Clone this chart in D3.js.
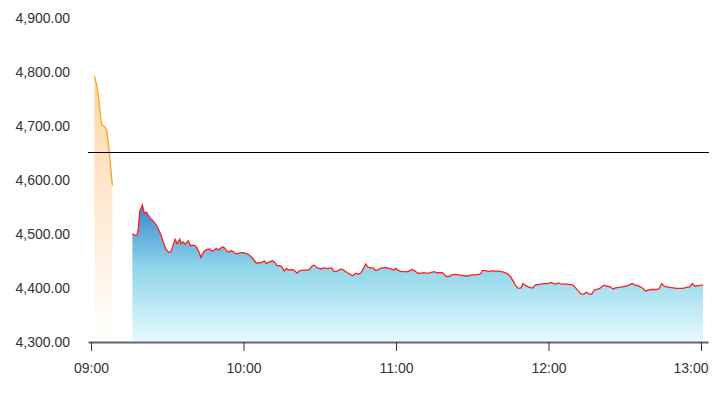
<!DOCTYPE html>
<html>
<head>
<meta charset="utf-8">
<script src="https://cdn.jsdelivr.net/npm/d3@7"></script>
<style>
    html, body { margin: 0; padding: 0; background: #fff; }
    svg { display: block; font-family: "Liberation Sans", Arial, sans-serif; }
    .tick text { fill: #333; font-size: 14px; }
</style>
</head>
<body>
<div id="chart"></div>
<script>
// opening auction (minutes after 09:00)
const preMinutes = [1.3, 2.4, 4.2, 5.2, 6.2, 7.3, 8.4];
const preValues = [4793, 4773, 4702, 4700, 4692, 4646, 4590];

// continuous session (minutes after 09:00)
const sessionMinutes = [
    16.25, 17.31, 18.10, 18.61, 19.16, 20.18, 20.97, 21.76, 22.31, 23.33,
    24.39, 25.45, 26.48, 27.54, 28.60, 29.63, 30.69, 31.48, 32.26, 33.05,
    33.84, 34.35, 34.90, 35.41, 36.20, 36.98, 37.77, 38.28, 39.07, 39.85,
    40.92, 41.70, 42.49, 43.28, 43.79, 44.57, 45.64, 46.70, 47.72, 48.51,
    49.29, 50.08, 50.87, 51.93, 52.72, 53.50, 54.29, 55.08, 55.86, 56.65,
    57.71, 58.74, 59.80, 60.86, 61.89, 62.95, 64.01, 65.03, 66.10, 67.16,
    68.18, 68.97, 69.75, 71.33, 72.39, 73.18, 74.24, 75.03, 76.05, 76.84,
    77.62, 78.69, 79.75, 80.53, 81.05, 81.84, 82.90, 84.19, 85.49, 86.28,
    87.06, 87.85, 88.64, 89.70, 90.49, 91.55, 92.57, 93.64, 94.70, 95.48,
    96.51, 97.57, 98.36, 99.42, 100.20, 101.23, 102.01, 102.80, 103.59, 104.38,
    105.16, 106.23, 107.29, 108.07, 108.86, 109.88, 110.95, 111.73, 112.79, 113.82,
    114.88, 115.94, 116.97, 118.03, 119.09, 119.88, 120.66, 121.45, 122.47, 123.54,
    124.60, 125.39, 126.41, 127.47, 128.54, 129.56, 130.89, 132.19, 133.49, 135.06,
    136.13, 137.19, 138.21, 139.00, 139.78, 140.85, 141.91, 143.21, 144.51, 145.84,
    147.15, 148.44, 149.78, 151.08, 152.65, 153.44, 153.95, 155.01, 156.07, 157.10,
    157.88, 158.95, 160.24, 161.58, 162.88, 163.94, 164.97, 166.03, 167.09, 168.11,
    169.18, 169.96, 171.02, 172.05, 173.11, 173.90, 174.68, 175.75, 177.05, 178.34,
    179.68, 180.98, 182.04, 182.83, 183.85, 184.92, 185.98, 187.27, 188.57, 189.63,
    190.69, 191.72, 192.78, 193.84, 194.86, 195.93, 196.99, 198.01, 199.08, 200.14,
    201.16, 201.95, 203.01, 204.31, 205.37, 206.43, 207.73, 209.03, 210.36, 211.67,
    212.96, 214.03, 215.09, 216.11, 217.18, 218.24, 219.26, 220.33, 221.39, 222.41,
    223.47, 224.53, 225.56, 226.62, 227.68, 228.98, 230.28, 231.61, 232.92, 234.21,
    235.55, 236.58, 237.64, 238.94, 240.28, 240.80
];
const sessionValues = [
    4501, 4498, 4499, 4511, 4542, 4554, 4539, 4541, 4537, 4530,
    4525, 4519, 4510, 4499, 4483, 4471, 4467, 4468, 4480, 4491,
    4483, 4486, 4491, 4483, 4486, 4482, 4486, 4488, 4479, 4480,
    4479, 4475, 4467, 4457, 4463, 4469, 4472, 4473, 4469, 4471,
    4474, 4471, 4474, 4477, 4474, 4469, 4467, 4470, 4468, 4465,
    4464, 4466, 4466, 4465, 4463, 4459, 4453, 4447, 4447, 4448,
    4451, 4446, 4448, 4451, 4448, 4442, 4442, 4440, 4432, 4437,
    4434, 4435, 4434, 4431, 4428, 4432, 4434, 4434, 4434, 4437,
    4442, 4443, 4439, 4437, 4436, 4438, 4437, 4437, 4438, 4432,
    4431, 4434, 4436, 4434, 4431, 4428, 4426, 4423, 4426, 4428,
    4426, 4429, 4438, 4445, 4440, 4438, 4438, 4434, 4434, 4437,
    4438, 4439, 4437, 4436, 4434, 4437, 4434, 4432, 4431, 4431,
    4431, 4433, 4435, 4432, 4428, 4428, 4429, 4428, 4429, 4431,
    4429, 4429, 4429, 4426, 4422, 4422, 4425, 4426, 4425, 4424,
    4423, 4423, 4425, 4425, 4426, 4428, 4433, 4433, 4432, 4431,
    4433, 4432, 4432, 4431, 4429, 4427, 4422, 4414, 4405, 4400,
    4401, 4409, 4405, 4403, 4401, 4401, 4406, 4407, 4408, 4409,
    4409, 4411, 4409, 4408, 4410, 4408, 4408, 4408, 4407, 4406,
    4401, 4395, 4390, 4389, 4393, 4390, 4389, 4397, 4398, 4400,
    4404, 4406, 4404, 4403, 4399, 4401, 4402, 4403, 4404, 4406,
    4409, 4406, 4405, 4403, 4400, 4395, 4397, 4398, 4398, 4398,
    4399, 4409, 4404, 4403, 4402, 4401, 4400, 4400, 4400, 4402,
    4403, 4409, 4404, 4405, 4406, 4407
];

const prevClose = 4652;
const yTicks = [4300, 4400, 4500, 4600, 4700, 4800, 4900];
const xTickLabels = ["09:00", "10:00", "11:00", "12:00", "13:00"];

const width = 719;
const height = 393;

const base = new Date(2000, 0, 1, 9, 0, 0);
const toDate = m => new Date(base.getTime() + m * 60000);
const parseTime = d3.timeParse("%H:%M");
const tickDate = s => {
    const t = parseTime(s);
    return new Date(2000, 0, 1, t.getHours(), t.getMinutes());
};

const svg = d3.select("#chart")
    .append("svg")
    .attr("width", width)
    .attr("height", height);

const x = d3.scaleTime()
    .domain([toDate(-1.2), toDate(242.75)])
    .range([88, 708]);

const y = d3.scaleLinear()
    .domain([4300, 4900])
    .range([342.5, 18]);

const pre = preMinutes.map((m, i) => ({ t: toDate(m), v: preValues[i] }));
const n = Math.min(sessionMinutes.length, sessionValues.length);
const session = sessionMinutes.slice(0, n).map((m, i) => ({ t: toDate(m), v: sessionValues[i] }));

//gradients
const defs = svg.append("defs");
const orangeGrad = defs.append("linearGradient")
    .attr("id", "orangeGrad")
    .attr("x1", 0).attr("y1", 0).attr("x2", 0).attr("y2", 1);
orangeGrad.append("stop").attr("offset", 0).attr("stop-color", "#fdd6a4");
orangeGrad.append("stop").attr("offset", 0.5).attr("stop-color", "#feead3");
orangeGrad.append("stop").attr("offset", 1).attr("stop-color", "#ffffff");

const blueGrad = defs.append("linearGradient")
    .attr("id", "blueGrad")
    .attr("x1", 0).attr("y1", 0).attr("x2", 0).attr("y2", 1);
blueGrad.append("stop").attr("offset", 0).attr("stop-color", "#3c86cc");
blueGrad.append("stop").attr("offset", 0.45).attr("stop-color", "#8dd5ea");
blueGrad.append("stop").attr("offset", 1).attr("stop-color", "#e6fafd");

const area = d3.area()
    .x(d => x(d.t))
    .y0(y(4300) - 1)
    .y1(d => y(d.v));

const line = d3.line()
    .x(d => x(d.t))
    .y(d => y(d.v));

svg.append("path")
    .datum(pre)
    .attr("d", area)
    .attr("fill", "url(#orangeGrad)");

svg.append("path")
    .datum(session)
    .attr("d", area)
    .attr("fill", "url(#blueGrad)");

svg.append("path")
    .datum(pre)
    .attr("d", line)
    .attr("fill", "none")
    .attr("stroke", "#f5a623")
    .attr("stroke-width", 1.3);

svg.append("path")
    .datum(session)
    .attr("d", line)
    .attr("fill", "none")
    .attr("stroke", "#ff1f1f")
    .attr("stroke-width", 1.3);

//previous close
svg.append("line")
    .attr("x1", 88)
    .attr("x2", 709)
    .attr("y1", Math.round(y(prevClose)) + 0.5)
    .attr("y2", Math.round(y(prevClose)) + 0.5)
    .attr("stroke", "#000")
    .attr("stroke-width", 1);

//y axis labels
const yAxis = svg.append("g")
    .attr("transform", "translate(80, 0)")
    .call(d3.axisLeft(y).tickValues(yTicks).tickSize(0).tickPadding(10).tickFormat(d3.format(",.2f")));
yAxis.select(".domain").remove();

//x axis
const xAxis = svg.append("g")
    .attr("transform", "translate(0, 342)")
    .call(d3.axisBottom(x)
        .tickValues(xTickLabels.map(tickDate))
        .tickFormat(d3.timeFormat("%H:%M"))
        .tickSize(9)
        .tickSizeOuter(0)
        .tickPadding(12));
xAxis.select(".domain").attr("stroke", "#666").attr("stroke-width", 2);
xAxis.selectAll(".tick line").attr("stroke", "#333");
xAxis.selectAll(".tick text")
    .filter((d, i, nodes) => i === nodes.length - 1)
    .attr("text-anchor", "end")
    .attr("x", 708 - x(tickDate(xTickLabels[xTickLabels.length - 1])));
</script>
</body>
</html>
